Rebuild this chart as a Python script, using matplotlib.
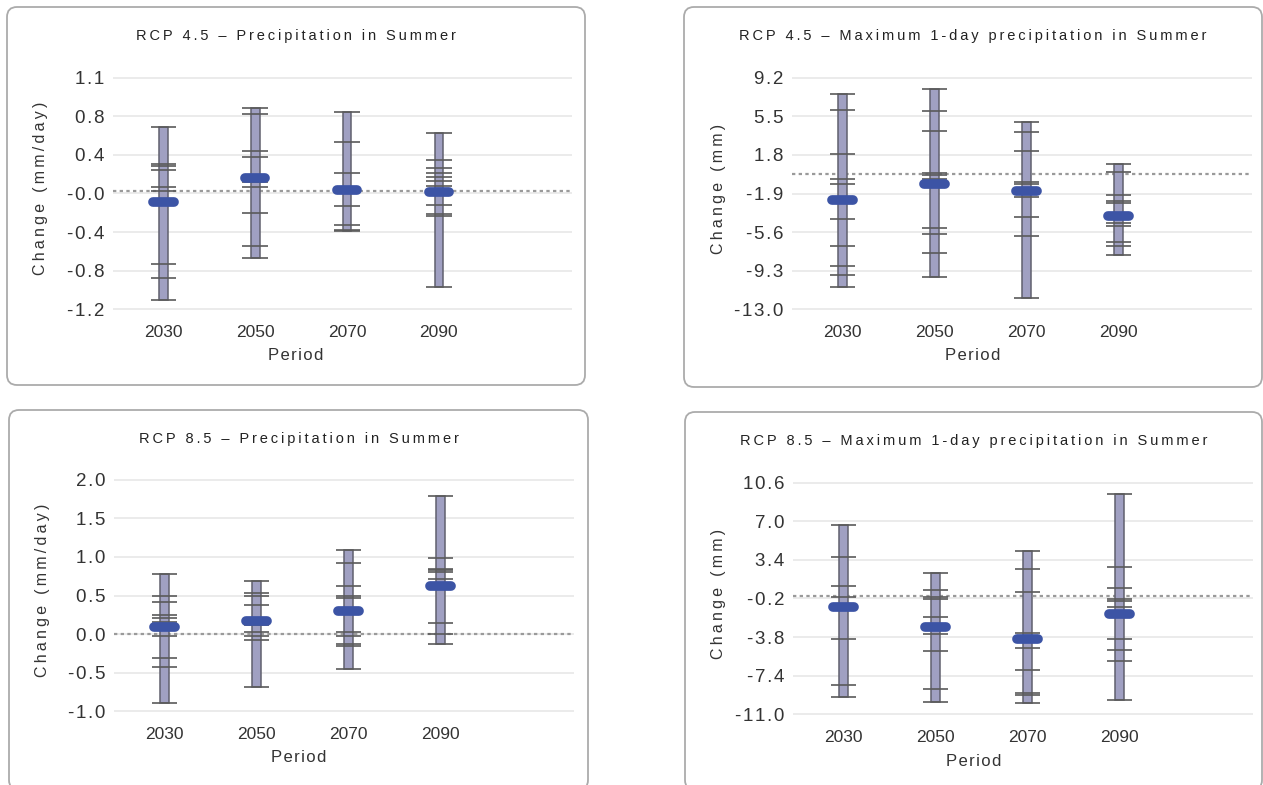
import matplotlib.pyplot as plt
from matplotlib.patches import FancyBboxPatch
import numpy as np

plt.rcParams['font.family'] = ['Liberation Sans', 'DejaVu Sans']

periods = ['2030', '2050', '2070', '2090']

# RCP 4.5 - precipitation in summer (mm/day), one value per model
pr45_models = [
    [0.64, 0.27, 0.25, 0.21, 0.04, 0.00, -0.72, -0.86, -1.08],
    [0.83, 0.77, 0.40, 0.34, 0.09, 0.04, -0.21, -0.54, -0.66],
    [0.79, 0.49, 0.18, -0.14, -0.33, -0.38, -0.39],
    [0.58, 0.31, 0.23, 0.18, 0.14, 0.10, 0.05, -0.13, -0.22, -0.24, -0.95],
]
pr45_median = [-0.10, 0.13, 0.01, -0.01]
pr45_ticks = ['-1.2', '-0.8', '-0.4', '-0.0', '0.4', '0.8', '1.1']

# RCP 4.5 - maximum 1-day precipitation in summer (mm)
rx45_models = [
    [7.61, 6.09, 1.86, -0.46, -1.00, -4.33, -6.90, -8.87, -9.76, -10.87],
    [8.18, 5.99, 4.12, 0.08, -0.17, -0.49, -5.25, -5.79, -7.57, -9.88],
    [4.98, 3.99, 2.21, -0.80, -1.00, -2.20, -4.14, -6.02, -11.98],
    [0.94, 0.12, -2.04, -2.64, -2.83, -4.74, -5.00, -6.59, -6.90, -7.76],
]
rx45_median = [-2.55, -1.00, -1.69, -4.02]
rx45_ticks = ['-13.0', '-9.3', '-5.6', '-1.9', '1.8', '5.5', '9.2']

# RCP 8.5 - precipitation in summer (mm/day)
pr85_models = [
    [0.78, 0.49, 0.42, 0.25, 0.21, 0.15, -0.02, -0.31, -0.43, -0.90],
    [0.69, 0.53, 0.50, 0.38, 0.20, 0.12, 0.03, -0.02, -0.08, -0.69],
    [1.09, 0.92, 0.62, 0.49, 0.47, 0.02, -0.03, -0.13, -0.16, -0.46],
    [1.79, 0.99, 0.85, 0.83, 0.80, 0.72, 0.14, 0.00, -0.13],
]
pr85_median = [0.09, 0.17, 0.30, 0.62]
pr85_ticks = ['-1.0', '-0.5', '0.0', '0.5', '1.0', '1.5', '2.0']

# RCP 8.5 - maximum 1-day precipitation in summer (mm)
rx85_models = [
    [6.64, 3.67, 0.98, -0.05, -3.98, -8.28, -9.36],
    [2.21, 0.57, -0.05, -0.20, -1.93, -3.51, -5.15, -8.62, -9.89],
    [4.26, 2.55, 0.39, -3.45, -4.81, -6.88, -9.02, -9.21, -9.98],
    [9.55, 2.74, 0.82, -0.29, -0.48, -1.04, -3.98, -4.97, -6.05, -9.67],
]
rx85_median = [-1.00, -2.86, -3.94, -1.69]
rx85_ticks = ['-11.0', '-7.4', '-3.8', '-0.2', '3.4', '7.0', '10.6']

W, H = 1263, 785
fig = plt.figure(figsize=(W / 100, H / 100), dpi=100, facecolor='white')


def spaced(s, gap='\u2009'):
    # widen the lettering a little, like the web chart titles
    return gap.join(s)


def panel(box, plot, title, ylabel, models, median, ylim, ticklabels):
    bx0, by0, bx1, by1 = box
    frame = FancyBboxPatch((bx0 / 100, (H - by1) / 100), (bx1 - bx0) / 100, (by1 - by0) / 100,
                           boxstyle='round,pad=0,rounding_size=0.1',
                           transform=fig.dpi_scale_trans, fc='white', ec='#ababab', lw=1.3,
                           zorder=-1)
    fig.patches.append(frame)

    px0, py0, px1, py1 = plot
    ax = fig.add_axes([px0 / W, 1 - py1 / H, (px1 - px0) / W, (py1 - py0) / H])
    ax.set_facecolor('none')
    ax.set_zorder(2)

    ymin, ymax = ylim
    pad = (ymax - ymin) * 0.004
    ax.set_ylim(ymin - pad, ymax + pad)
    ax.set_xlim(-0.55, 4.45)
    ax.set_yticks(np.linspace(ymin, ymax, 7), [spaced(t, '\u200a') for t in ticklabels])
    x = np.arange(len(periods))
    ax.set_xticks(x, periods)
    ax.grid(axis='y', color='#e8e8e8', lw=1.2)
    ax.set_axisbelow(True)
    for s in ax.spines.values():
        s.set_visible(False)
    ax.tick_params(axis='y', length=0, labelsize=13.5, colors='#333333', pad=6)
    ax.tick_params(axis='x', length=0, labelsize=12.5, colors='#333333', pad=11)

    ax.axhline(0, color='#9a9a9a', lw=1.6, ls=(0, (1.5, 1.5)), zorder=1)

    lo = np.array([min(m) for m in models])
    hi = np.array([max(m) for m in models])
    ax.bar(x, hi - lo, bottom=lo, width=0.095, color='#a0a0c2', edgecolor='#60606e', lw=1.1, zorder=2)
    for i, vals in enumerate(models):
        ax.hlines(vals, i - 0.14, i + 0.14, color='#5a5a5a', lw=1.2, zorder=3)
        ax.plot([i - 0.11, i + 0.11], [median[i], median[i]], color='#3c54a5', lw=7,
                solid_capstyle='round', zorder=4)

    cx = (bx0 + bx1) / 2 / W
    fig.text(cx, 1 - (by0 + 29) / H, spaced(title), ha='center', va='center', fontsize=10.5,
             color='#222222')
    fig.text(cx, 1 - (py1 + 46) / H, spaced('Period', '\u200a'), ha='center', va='center',
             fontsize=12, color='#333333')
    fig.text((bx0 + 34) / W, 1 - ((py0 + py1) / 2 - 5) / H, spaced(ylabel), rotation=90,
             ha='center', va='center', fontsize=11.5, color='#333333')
    return ax


panel((7, 7, 585, 385), (113, 77, 572, 310), 'RCP 4.5 \u2013 Precipitation in Summer',
      'Change (mm/day)', pr45_models, pr45_median, (-1.175, 1.135), pr45_ticks)
panel((684, 7, 1262, 387), (792, 77, 1252, 310), 'RCP 4.5 \u2013 Maximum 1-day precipitation in Summer',
      'Change (mm)', rx45_models, rx45_median, (-13.0, 9.2), rx45_ticks)
panel((9, 410, 588, 790), (114, 479, 574, 712), 'RCP 8.5 \u2013 Precipitation in Summer',
      'Change (mm/day)', pr85_models, pr85_median, (-1.0, 2.0), pr85_ticks)
panel((685, 412, 1262, 790), (793, 482, 1253, 715), 'RCP 8.5 \u2013 Maximum 1-day precipitation in Summer',
      'Change (mm)', rx85_models, rx85_median, (-11.0, 10.6), rx85_ticks)

plt.savefig('out.png', dpi=100, facecolor='white')
